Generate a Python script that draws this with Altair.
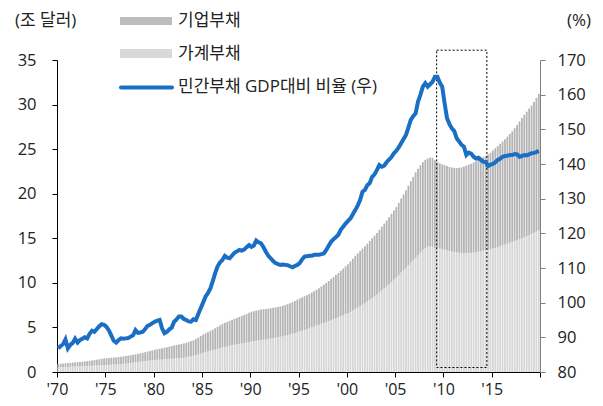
import altair as alt
import pandas as pd

years = list(range(1970, 2020))

# 총 민간부채 (가계 + 기업), 조 달러, 분기별
total_debt = [
    0.90, 0.92, 0.95, 0.97,  1.00, 1.02, 1.05, 1.07,  1.10, 1.13, 1.16, 1.19,
    1.22, 1.26, 1.30, 1.34,  1.38, 1.42, 1.47, 1.51,  1.55, 1.57, 1.60, 1.62,
    1.65, 1.69, 1.72, 1.76,  1.80, 1.84, 1.89, 1.93,  1.98, 2.04, 2.10, 2.16,
    2.22, 2.29, 2.36, 2.43,  2.50, 2.55, 2.61, 2.66,  2.72, 2.78, 2.85, 2.91,
    2.98, 3.03, 3.09, 3.14,  3.20, 3.28, 3.37, 3.46,  3.55, 3.70, 3.86, 4.03,
    4.20, 4.33, 4.47, 4.61,  4.75, 4.91, 5.07, 5.23,  5.40, 5.51, 5.62, 5.74,
    5.85, 5.96, 6.07, 6.19,  6.30, 6.41, 6.52, 6.64,  6.75, 6.82, 6.88, 6.94,
    7.00, 7.03, 7.07, 7.11,  7.15, 7.20, 7.25, 7.30,  7.35, 7.43, 7.52, 7.61,
    7.70, 7.83, 7.97, 8.11,  8.25, 8.37, 8.50, 8.62,  8.75, 8.91, 9.07, 9.23,
    9.40, 9.60, 9.80, 10.00, 10.20, 10.42, 10.65, 10.87, 11.10, 11.35, 11.60, 11.85,
    12.10, 12.40, 12.70, 13.00, 13.30, 13.57, 13.85, 14.12, 14.40, 14.70, 15.00, 15.30,
    15.60, 15.95, 16.30, 16.65, 17.00, 17.37, 17.75, 18.12, 18.50, 18.97, 19.45, 19.92,
    20.40, 20.90, 21.40, 21.90, 22.40, 22.80, 23.20, 23.55, 23.80, 23.95, 24.05, 24.00,
    23.75, 23.55, 23.40, 23.30, 23.20, 23.10, 23.00, 22.95, 22.90, 22.88, 22.90, 22.95,
    23.05, 23.15, 23.25, 23.35, 23.50, 23.65, 23.80, 23.95, 24.10, 24.25, 24.40, 24.60,
    24.85, 25.10, 25.35, 25.60, 25.85, 26.10, 26.40, 26.70, 27.00, 27.35, 27.70, 28.10,
    28.50, 28.85, 29.20, 29.55, 29.90, 30.30, 30.75, 31.20,
]

# 가계부채, 조 달러, 분기별
household_debt = [
    0.55, 0.56, 0.56, 0.57,  0.58, 0.59, 0.61, 0.62,  0.63, 0.64, 0.66, 0.67,
    0.68, 0.70, 0.71, 0.73,  0.74, 0.75, 0.76, 0.77,  0.78, 0.80, 0.81, 0.83,
    0.85, 0.87, 0.90, 0.92,  0.95, 0.98, 1.01, 1.04,  1.08, 1.11, 1.15, 1.18,
    1.22, 1.25, 1.28, 1.31,  1.34, 1.36, 1.38, 1.40,  1.42, 1.44, 1.46, 1.48,
    1.50, 1.52, 1.55, 1.57,  1.60, 1.65, 1.70, 1.75,  1.80, 1.88, 1.97, 2.06,
    2.15, 2.22, 2.30, 2.37,  2.45, 2.52, 2.60, 2.67,  2.75, 2.81, 2.87, 2.94,
    3.00, 3.05, 3.10, 3.15,  3.20, 3.25, 3.30, 3.35,  3.40, 3.45, 3.50, 3.55,
    3.60, 3.64, 3.68, 3.71,  3.75, 3.80, 3.85, 3.90,  3.95, 4.01, 4.07, 4.14,
    4.20, 4.29, 4.37, 4.46,  4.55, 4.64, 4.72, 4.81,  4.90, 5.00, 5.10, 5.20,
    5.30, 5.40, 5.50, 5.60,  5.70, 5.81, 5.92, 6.04,  6.15, 6.26, 6.37, 6.49,
    6.60, 6.75, 6.90, 7.05,  7.20, 7.37, 7.55, 7.72,  7.90, 8.10, 8.30, 8.50,
    8.70, 8.92, 9.15, 9.37,  9.60, 9.85, 10.10, 10.35, 10.60, 10.87, 11.15, 11.42,
    11.70, 11.97, 12.25, 12.52, 12.80, 13.10, 13.40, 13.70, 13.90, 14.05, 14.10, 14.05,
    13.95, 13.90, 13.85, 13.80, 13.72, 13.65, 13.58, 13.50, 13.45, 13.40, 13.37, 13.35,
    13.35, 13.35, 13.36, 13.38, 13.40, 13.45, 13.50, 13.55, 13.60, 13.66, 13.72, 13.78,
    13.85, 13.93, 14.02, 14.10, 14.20, 14.30, 14.40, 14.50, 14.60, 14.70, 14.80, 14.90,
    15.00, 15.12, 15.25, 15.37, 15.50, 15.63, 15.77, 15.90,
]

# 민간부채 GDP대비 비율 (%), 분기별
ratio = [
    86.8, 87.5, 88.0, 89.4,  86.8, 87.8, 88.4, 89.6,  88.5, 89.2, 89.6, 90.0,
    89.7, 91.0, 91.9, 91.6,  92.4, 93.2, 93.8, 93.6,  93.0, 92.0, 90.5, 89.0,
    88.5, 89.2, 89.7, 89.6,  89.7, 89.8, 90.2, 90.6,  92.1, 91.3, 91.4, 91.6,
    92.4, 93.3, 93.6, 94.1,  94.5, 94.8, 95.0, 92.6,  91.2, 91.6, 92.3, 92.8,
    94.5, 95.2, 96.0, 96.0,  95.3, 95.0, 94.6, 94.5,  95.2, 95.0, 96.7, 98.4,
    100.0, 101.7, 102.8, 104.1, 106.2, 108.5, 110.5, 111.6, 112.3, 113.5, 113.0, 112.8,
    113.6, 114.4, 114.8, 115.2, 115.0, 115.3, 116.0, 116.6, 116.1, 116.5, 117.9, 117.4,
    117.1, 116.0, 114.7, 113.5, 112.8, 112.0, 111.4, 111.1, 110.9, 111.0, 110.9, 110.8,
    110.5, 110.2, 110.6, 110.9, 111.4, 112.5, 113.3, 113.4, 113.5, 113.5, 113.8, 113.8,
    113.8, 114.0, 114.2, 115.2, 116.4, 117.6, 118.3, 118.9, 119.6, 121.0, 121.9, 122.8,
    123.6, 124.3, 125.5, 126.7, 128.0, 129.6, 132.0, 132.5, 133.9, 134.5, 136.3, 137.0,
    138.3, 139.7, 139.2, 139.5, 140.5, 141.3, 142.0, 143.1, 143.8, 144.8, 146.0, 147.2,
    148.4, 150.5, 152.7, 153.8, 154.6, 158.0, 160.0, 162.3, 163.3, 162.3, 163.0, 163.7,
    165.2, 165.2, 163.5, 162.3, 157.5, 153.2, 151.5, 150.3, 149.5, 147.4, 146.5, 145.5,
    145.0, 142.6, 143.3, 143.0, 142.1, 141.6, 141.8, 141.2, 140.7, 140.5, 139.4, 139.8,
    140.0, 140.5, 141.2, 141.5, 142.1, 142.3, 142.4, 142.6, 142.6, 142.9, 142.8, 142.1,
    142.3, 142.6, 142.5, 142.8, 143.1, 143.2, 143.4, 143.8,
]

# 점선 박스 (2009~2014)
box_x = [2009.3]
box_x2 = [2014.5]
box_y = [0.5]
box_y2 = [36.1]

legend_labels = ["기업부채", "가계부채", "민간부채 GDP대비 비율 (우)"]

t = [y + (q + 0.5) / 4 for y in years for q in range(4)]
df = pd.DataFrame({"t": t, "total": total_debt, "household": household_debt, "ratio": ratio})

FONT = "'Open Sans', 'Noto Sans CJK KR'"
TXT = "#222222"
CORP = "#b4b4b4"
HH = "#d6d6d6"
BLUE = "#1a6fc4"
LBL = 16

x_scale = alt.Scale(domain=[1970, 2020], nice=False, zero=False, padding=0)
x_axis = alt.Axis(
    values=list(range(1970, 2021, 5)),
    labelExpr="datum.value == 2020 ? '' : \"'\" + substring(toString(datum.value), 2, 4)",
    title=None, grid=False, domainColor="#000000", tickColor="#000000",
    tickSize=5, labelPadding=4, labelFontSize=LBL, labelColor=TXT, labelFont=FONT,
    labelFlush=False,
)
yl_scale = alt.Scale(domain=[0, 35], nice=False, zero=True)
yl_axis = alt.Axis(
    values=list(range(0, 36, 5)), title=None, grid=False, domainColor="#000000",
    tickColor="#000000", tickSize=5, labelPadding=16, labelFontSize=16.5,
    labelColor=TXT, labelFont=FONT,
)
yr_scale = alt.Scale(domain=[80, 170], nice=False, zero=False)
yr_axis = alt.Axis(
    orient="right", values=list(range(80, 171, 10)), title=None, grid=False,
    domainColor="#7f7f7f", tickColor="#7f7f7f", tickSize=5, labelPadding=12,
    labelFontSize=16.5, labelColor=TXT, labelFont=FONT,
)

base = alt.Chart(df)
hh_bars = base.mark_bar(size=1.8, color=HH).encode(
    x=alt.X("t:Q", scale=x_scale, axis=x_axis),
    y=alt.Y("household:Q", scale=yl_scale, axis=yl_axis),
)
corp_bars = base.mark_bar(size=1.8, color=CORP).encode(
    x=alt.X("t:Q"),
    y=alt.Y("total:Q", scale=yl_scale),
    y2="household:Q",
)
box_df = pd.DataFrame({"x": box_x, "x2": box_x2, "y": box_y, "y2": box_y2})
box = alt.Chart(box_df).mark_rect(
    fillOpacity=0, stroke="#000000", strokeWidth=1, strokeDash=[2, 2]
).encode(x="x:Q", x2="x2:Q", y=alt.Y("y:Q", scale=yl_scale), y2="y2:Q")

left = alt.layer(hh_bars, corp_bars, box)

line = alt.Chart(df).mark_line(color=BLUE, strokeWidth=4).encode(
    x=alt.X("t:Q"),
    y=alt.Y("ratio:Q", scale=yr_scale, axis=yr_axis),
)

one = pd.DataFrame({"a": [0]})
sw1 = alt.Chart(one).mark_rect(color="#bdbdbd").encode(
    x=alt.value(63), x2=alt.value(115), y=alt.value(-43), y2=alt.value(-35))
sw2 = alt.Chart(one).mark_rect(color="#d9d9d9").encode(
    x=alt.value(63), x2=alt.value(115), y=alt.value(-11), y2=alt.value(-2))
sw3 = alt.Chart(one).mark_rule(color=BLUE, strokeWidth=4, strokeCap="round").encode(
    x=alt.value(64), x2=alt.value(115), y=alt.value(27.5))


def label(txt, x, y, size=17):
    return alt.Chart(one).mark_text(
        align="left", baseline="middle", font=FONT, fontSize=size, color=TXT
    ).encode(x=alt.value(x), y=alt.value(y), text=alt.value(txt))


t1 = label(legend_labels[0], 121, -39)
t2 = label(legend_labels[1], 121, -6.5)
t3 = label(legend_labels[2], 121, 27)
unit_l = label("(조 달러)", -42, -39)
unit_r = label("(%)", 510, -39)

chart = alt.layer(
    left, line, sw1, sw2, sw3, t1, t2, t3, unit_l, unit_r
).resolve_scale(y="independent").properties(
    width=483, height=312,
    padding={"left": 49, "top": 52, "right": 55, "bottom": 26},
    autosize=alt.AutoSizeParams(type="none"),
).configure_view(stroke=None)

chart.save("out.html", embed_options={"renderer": "svg", "actions": False})
